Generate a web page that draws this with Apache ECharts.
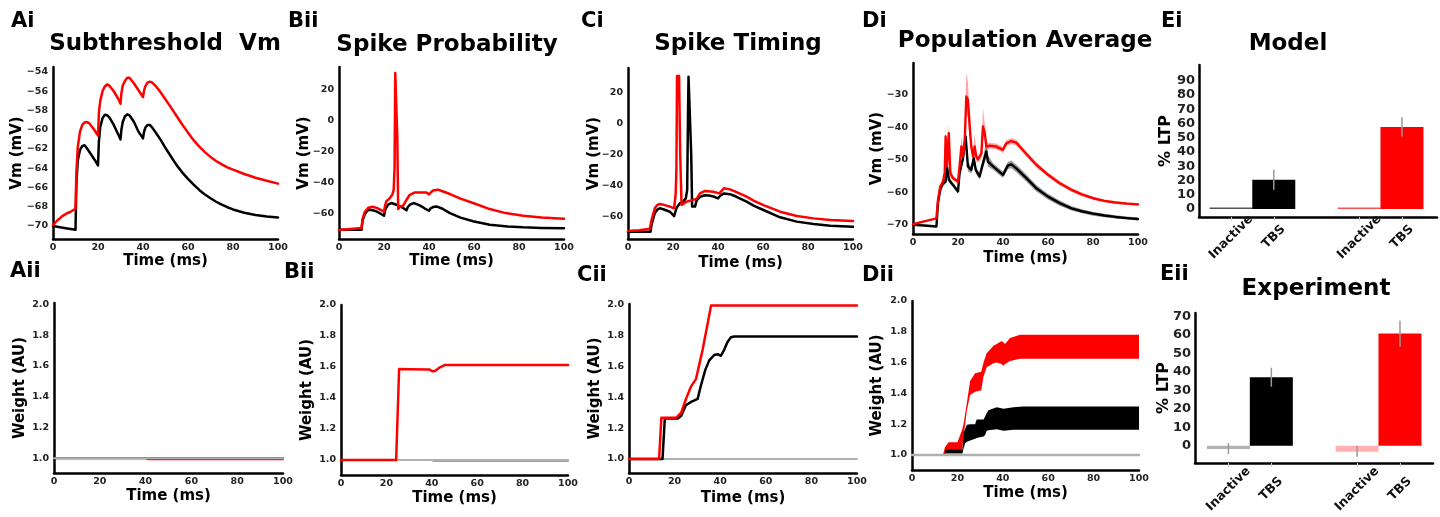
<!DOCTYPE html>
<html><head><meta charset="utf-8">
<script src="https://cdn.jsdelivr.net/npm/echarts@6/dist/echarts.min.js"></script>
<style>html,body{margin:0;padding:0;background:#fff}#c{width:1440px;height:517px}</style>
</head><body><div id="c"></div>
<script>
// ---------------- DATA ----------------
const timeTicks = [0, 20, 40, 60, 80, 100];
const aiVmTicks = [-70, -68, -66, -64, -62, -60, -58, -56, -54];
const spikeVmTicks = [-60, -40, -20, 0, 20];
const popVmTicks = [-70, -60, -50, -40, -30];
const weightTicks = [1.0, 1.2, 1.4, 1.6, 1.8, 2.0];
const modelTicks = [0, 10, 20, 30, 40, 50, 60, 70, 80, 90];
const experimentTicks = [0, 10, 20, 30, 40, 50, 60, 70];
const barCategories = ['Inactive', 'TBS', 'Inactive', 'TBS'];
const barPositions = [0, 1, 3, 4];

// Ai: subthreshold Vm (time ms, mV)
const aiBlack = [[0,-70.0],[5,-70.2],[10,-70.4],[10.4,-65.5],[11,-63.2],[12,-62.1],[13,-61.7],[14,-61.6],[15,-61.9],[17,-62.6],[19,-63.3],[20,-63.7],[20.4,-61.2],[21,-59.7],[22,-58.8],[23,-58.45],[24,-58.5],[25,-58.7],[27,-59.5],[29,-60.5],[30,-61.0],[30.4,-60.0],[31,-59.2],[32,-58.6],[33,-58.4],[34,-58.5],[36,-59.2],[38,-60.2],[40,-60.9],[40.4,-60.3],[41,-59.8],[42,-59.5],[43,-59.5],[44,-59.75],[46,-60.4],[48,-61.1],[50,-61.9],[52.5,-62.8],[55,-63.7],[57.5,-64.45],[60,-65.1],[62.5,-65.7],[65,-66.25],[67.5,-66.72],[70,-67.12],[72.5,-67.48],[75,-67.78],[77.5,-68.05],[80,-68.28],[85,-68.62],[90,-68.86],[95,-69.02],[100,-69.12]];
const aiRed = [[0,-69.9],[2,-69.4],[4,-69.0],[6,-68.7],[8,-68.5],[10,-68.2],[10.4,-64.5],[11,-61.8],[12,-60.2],[13,-59.5],[14,-59.25],[15,-59.2],[16,-59.3],[18,-59.9],[20,-60.6],[20.4,-58.2],[21,-57.0],[22,-56.0],[23,-55.5],[24,-55.3],[25,-55.4],[27,-56.0],[29,-56.8],[30,-57.3],[30.4,-56.2],[31,-55.4],[32,-54.9],[33,-54.6],[34,-54.6],[36,-55.2],[38,-55.9],[40,-56.6],[40.4,-56.0],[41,-55.5],[42,-55.1],[43,-55.0],[44,-55.08],[46,-55.55],[48,-56.15],[50,-56.85],[52.5,-57.7],[55,-58.6],[57.5,-59.48],[60,-60.3],[62.5,-61.08],[65,-61.75],[67.5,-62.32],[70,-62.82],[72.5,-63.25],[75,-63.6],[77.5,-63.9],[80,-64.15],[85,-64.6],[90,-64.98],[95,-65.3],[100,-65.6]];

// Bi: spike probability
const biBlack = [[0,-70.2],[10,-70.2],[10.5,-64],[11.4,-60.4],[12.5,-58],[13.6,-57.2],[15,-57.6],[16.6,-58.3],[18.5,-59.8],[20,-61.1],[20.6,-57],[21.8,-54],[23.3,-52.9],[25.5,-54],[28.5,-56.1],[30,-57.6],[30.6,-55.5],[31.5,-54],[33.2,-52.9],[35.9,-54.4],[38,-56.3],[40,-57.9],[40.6,-56.5],[41.8,-55.5],[43.3,-55.1],[46,-56.6],[49.3,-59.4],[54,-62.3],[59.6,-64.7],[67,-66.9],[75,-68],[81.9,-68.6],[90,-69],[100,-69.2]];
const biRed = [[0,-70.3],[5,-69.7],[10,-69.0],[10.5,-63],[11.5,-58.5],[13,-56],[15,-55.3],[17,-56.2],[20,-58.5],[20.5,-54.5],[21,-51.8],[22.6,-49.7],[23.7,-47.6],[24.3,-44.3],[24.7,-30],[25.0,31],[25.6,31],[25.9,-10],[26.3,-56.8],[27.3,-55],[28.5,-54.6],[30,-50.8],[31.5,-47.6],[33.7,-46.1],[38.9,-46.1],[40,-47.4],[41.8,-44.8],[44,-44.3],[46,-45.3],[49.3,-47.1],[54,-50.1],[59.6,-52.9],[67,-56.8],[74,-59.4],[81.9,-61.1],[90,-62.2],[100,-63]];

// Ci: spike timing
const ciBlack = [[0,-69.7],[10,-69.8],[10.5,-65],[11.9,-57.8],[13,-55.5],[14.1,-54.6],[16,-55.4],[18.6,-56.8],[20.5,-59.6],[21.5,-54.6],[23,-51.4],[24.5,-50.3],[25.7,-48.2],[26.3,-42.8],[26.7,10],[26.9,30.3],[27.6,30.3],[28.1,-20],[28.5,-53.5],[29.8,-53.5],[30.5,-49.5],[32,-47.2],[34,-46.2],[36,-46.4],[38,-47],[40,-48.2],[41,-46.5],[42.6,-45],[45.3,-45.5],[48,-47],[52.7,-50.3],[56,-53],[60.2,-55.7],[67.6,-60.4],[75,-63.2],[82.5,-64.7],[89.9,-65.8],[100,-66.5]];
const ciRed = [[0,-69.2],[5,-68.8],[9.7,-67.8],[10.5,-62],[11.9,-54.6],[13,-52.5],[14.1,-51.8],[16,-52.4],[18.6,-53.5],[20.5,-54.6],[21.2,-45],[21.5,-30],[21.8,30.8],[22.7,30.8],[23.2,-20],[23.8,-52.5],[26,-50.3],[29,-49.2],[30.5,-48.5],[32,-45],[34.2,-43.4],[37.9,-43.9],[40.6,-45],[42.6,-41.7],[45.3,-42.4],[48,-44],[52.7,-47.1],[56,-49.8],[60.2,-52.5],[67.6,-56.8],[75,-59.6],[82.5,-61.1],[89.9,-62.2],[100,-62.8]];

// Di: population average, mean and band [t, low, high]
const diRed = [[0,-69.8],[5,-68.9],[10.4,-68.0],[11.1,-62.3],[12.1,-58.2],[13.3,-56.7],[14.1,-54],[14.5,-42.8],[15.1,-52],[15.9,-41.8],[16.6,-54.1],[17.8,-55.6],[20,-56.7],[20.7,-52],[21.5,-45.9],[22.2,-49],[23,-43.8],[23.7,-30.5],[24.4,-31.5],[25.2,-39.7],[25.9,-45.9],[26.7,-49],[27.4,-45.9],[28.1,-49],[28.9,-49.8],[29.6,-49.5],[30.4,-48],[31.1,-39.7],[31.9,-41.8],[32.6,-45.9],[34.1,-45.6],[37,-45.9],[40,-46.9],[41.5,-44.9],[43.7,-44.2],[45.9,-44.7],[50.4,-48.2],[54.8,-51.5],[60,-54.6],[65.2,-57.2],[70.4,-59.2],[75,-60.6],[80,-61.8],[85,-62.6],[90,-63.1],[95,-63.45],[100,-63.7]];
const diRedBand = [[0,-70.0,-69.6],[5,-69.1,-68.7],[10.4,-68.2,-67.8],[11.1,-63,-61.5],[12.1,-59,-57.5],[13.3,-57.5,-56],[14.1,-55.5,-52],[14.5,-46,-39.5],[15.1,-54,-50],[15.9,-45,-39],[16.6,-55.5,-52.5],[17.8,-56.3,-55],[20,-57.3,-56],[20.7,-53.5,-50.5],[21.5,-48,-42.5],[22.2,-51,-47],[23,-47,-40],[23.7,-36,-23],[24.4,-37,-26],[25.2,-43,-36],[25.9,-48,-43.5],[26.7,-50.5,-47.5],[27.4,-48.5,-42],[28.1,-50.5,-47.5],[28.9,-50.8,-48.8],[29.6,-50.5,-48.5],[30.4,-49.5,-46.5],[31.1,-43,-34],[31.9,-44,-39],[32.6,-47,-44.5],[34.1,-46.5,-44.7],[37,-46.8,-45],[40,-47.8,-46],[41.5,-45.8,-44],[43.7,-45.1,-43.3],[45.9,-45.6,-43.8],[50.4,-49,-47.4],[54.8,-52.3,-50.7],[60,-55.3,-53.9],[65.2,-57.9,-56.5],[70.4,-59.8,-58.6],[75,-61.15,-60.05],[80,-62.3,-61.3],[85,-63.05,-62.15],[90,-63.5,-62.7],[95,-63.85,-63.05],[100,-64.1,-63.3]];
const diBlack = [[0,-70],[5,-70.2],[10.4,-70.5],[11.1,-63.3],[12.1,-59.2],[13.3,-57.2],[14.5,-56.7],[15.1,-52],[16,-56.2],[17.8,-57.7],[20,-59.7],[20.7,-54.1],[22.2,-49.5],[23.4,-42.8],[24.4,-52],[25.9,-53.1],[27,-49.5],[27.9,-53.1],[29.6,-55.1],[31.1,-51],[32.6,-47.4],[33.3,-50.5],[35.6,-52],[40,-54.6],[42.2,-51.7],[43.7,-51.4],[45.9,-52.6],[50.4,-55.6],[54.8,-58.7],[60,-61.3],[65.2,-63.3],[70.4,-64.9],[75,-65.8],[80,-66.55],[85,-67.1],[90,-67.55],[95,-67.9],[100,-68.2]];
const diBlackBand = [[0,-70.2,-69.8],[5,-70.4,-70],[10.4,-70.7,-70.3],[11.1,-64,-62.5],[12.1,-60,-58.4],[13.3,-58,-56.4],[14.5,-57.5,-55.5],[15.1,-54,-50],[16,-57,-55.2],[17.8,-58.4,-57],[20,-60.4,-59],[20.7,-55.2,-53],[22.2,-51,-48],[23.4,-46,-41],[24.4,-53.5,-50.5],[25.9,-54.2,-52],[27,-51.5,-47.5],[27.9,-54.2,-52],[29.6,-56,-54.2],[31.1,-52.5,-49.5],[32.6,-49.5,-44],[33.3,-52,-48.5],[35.6,-53,-51],[40,-55.6,-53.6],[42.2,-52.8,-50.6],[43.7,-52.6,-50.2],[45.9,-53.8,-51.4],[50.4,-56.7,-54.5],[54.8,-59.7,-57.7],[60,-62.2,-60.4],[65.2,-64.1,-62.5],[70.4,-65.6,-64.2],[75,-66.45,-65.15],[80,-67.15,-65.95],[85,-67.65,-66.55],[90,-68.05,-67.05],[95,-68.35,-67.45],[100,-68.65,-67.75]];

// Weights (AU)
const baselineWeight = [[0,1.0],[100,1.0]];
const aiiBlack = [[0,1.0],[100,1.0]];
const aiiRed = [[0,1.0],[40,1.0],[41,0.993],[100,0.993]];
const biiBlack = [[0,1.0],[40,1.0],[41,0.995],[100,0.995]];
const biiRed = [[0,1.0],[24.3,1.0],[25.6,1.587],[30,1.585],[39,1.583],[40.4,1.572],[41.4,1.574],[43.6,1.598],[45.8,1.613],[100,1.613]];
const ciiRed = [[0,1.0],[13.2,1.0],[14.2,1.268],[20.7,1.268],[22.9,1.3],[25,1.39],[27.2,1.47],[29.4,1.52],[30.1,1.53],[32.3,1.71],[34.5,1.88],[36,1.997],[39.4,1.997],[39.7,1.985],[40.1,1.997],[100,1.997]];
const ciiBlack = [[0,1.0],[14.7,1.0],[15.7,1.262],[21.4,1.262],[22.9,1.28],[25,1.35],[27.2,1.37],[28.7,1.38],[30.1,1.39],[31.6,1.48],[33.5,1.58],[35.2,1.64],[37.4,1.675],[38.9,1.68],[39.6,1.67],[40.3,1.67],[41.8,1.71],[43.2,1.76],[44.7,1.79],[46.1,1.795],[100,1.795]];
const diiRedBand = [[13.6,1.0,1.0],[14.5,1.01,1.05],[16.1,1.02,1.083],[20,1.02,1.083],[22,1.03,1.16],[22.7,1.12,1.2],[24.2,1.29,1.34],[25.6,1.39,1.48],[27.8,1.41,1.53],[30.5,1.42,1.54],[31.5,1.51,1.6],[32.9,1.57,1.66],[35.9,1.595,1.71],[37.3,1.6,1.72],[39.5,1.59,1.74],[40.3,1.58,1.73],[41,1.59,1.72],[43.2,1.61,1.76],[47.6,1.624,1.78],[100,1.624,1.78]];
const diiBlackBand = [[14.2,1.0,1.0],[14.8,1.01,1.033],[22.2,1.01,1.033],[22.7,1.04,1.14],[23.4,1.076,1.17],[24.2,1.085,1.196],[25.6,1.094,1.2],[27.8,1.105,1.2],[28.5,1.11,1.23],[31.5,1.12,1.23],[32.2,1.13,1.25],[32.9,1.157,1.27],[33.7,1.16,1.29],[37.3,1.167,1.31],[40.3,1.157,1.3],[44.7,1.163,1.31],[49,1.163,1.315],[100,1.163,1.315]];

// % LTP bars
const modelValues = [0, 20.5, 0, 57.6];
const modelErrLow = [0, 13.5, 0, 50.8];
const modelErrHigh = [0, 27.5, 0, 64.3];
const experimentValues = [-1.8, 37.1, -3.3, 60.9];
const experimentErrLow = [-4.5, 32.0, -6.0, 53.7];
const experimentErrHigh = [1.3, 42.3, 0.0, 67.8];

// ---------------- STYLE / LAYOUT ----------------
const FONT = 'DejaVu Sans';
const RED = '#ff0000', BLACK = '#000000', GRAY = '#b0b0b0';
const modelColors = ['#555555', BLACK, '#ff5050', RED];
const experimentColors = ['#b3b3b3', BLACK, '#ffb0b0', RED];

const gridRects = [
  {left:53, top:67, width:225, height:172},
  {left:339, top:67, width:225, height:172},
  {left:628, top:68, width:225, height:171},
  {left:913, top:63, width:225, height:171},
  {left:1199, top:65, width:238, height:152},
  {left:54, top:303, width:229, height:170},
  {left:341, top:305, width:227, height:170},
  {left:629, top:304, width:228, height:169},
  {left:912, top:301, width:227, height:169},
  {left:1195, top:313, width:238, height:150}
];

const minusFmt = v => String(v).replace('-', '\u2212');
const wFmt = v => Number(v).toFixed(1);
const axisLineStyle = {show:true, onZero:false, lineStyle:{color:'#000', width:2.5}};
const tickFont = {fontFamily:FONT, fontWeight:'bold', fontSize:9.5, color:'#222'};
const nameFont = {fontFamily:FONT, fontWeight:'bold', fontSize:15, color:'#000'};

function timeAxis(g, gap) {
  return {type:'value', gridIndex:g, min:0, max:100, name:'Time (ms)', nameLocation:'middle', nameGap:gap,
    nameMoveOverlap:false, nameTextStyle:nameFont, axisLine:axisLineStyle, axisTick:{show:false}, splitLine:{show:false},
    axisLabel:Object.assign({customValues:timeTicks, margin:4}, tickFont)};
}
function valAxis(g, min, max, ticks, name, gap, fmt) {
  return {type:'value', gridIndex:g, min:min, max:max, name:name, nameLocation:'middle', nameGap:gap, nameRotate:90,
    nameMoveOverlap:false, nameTextStyle:nameFont, axisLine:axisLineStyle, axisTick:{show:false}, splitLine:{show:false},
    axisLabel:Object.assign({customValues:ticks, margin:5, formatter:fmt}, tickFont)};
}
function barXAxis(g, min, max, margin) {
  return {type:'value', gridIndex:g, min:min, max:max, axisLine:axisLineStyle,
    axisTick:{show:true, customValues:barPositions, length:4, lineStyle:{color:'#cccccc', width:1}}, splitLine:{show:false},
    axisLabel:{customValues:barPositions, rotate:45, margin:margin, align:'center', verticalAlign:'middle',
      fontFamily:FONT, fontWeight:'bold', fontSize:12.5, color:'#111',
      formatter: v => barCategories[barPositions.indexOf(v)]}};
}
function barYAxis(g, min, max, ticks, gap) {
  return {type:'value', gridIndex:g, min:min, max:max, name:'% LTP', nameLocation:'middle', nameGap:gap, nameRotate:90,
    nameMoveOverlap:false, nameTextStyle:{fontFamily:FONT, fontWeight:'bold', fontSize:16, color:'#000'},
    axisLine:axisLineStyle, axisTick:{show:false}, splitLine:{show:false},
    axisLabel:{customValues:ticks, margin:4, fontFamily:FONT, fontWeight:'bold', fontSize:13, color:'#222'}};
}
function line(g, data, color, width, z) {
  return {type:'line', xAxisIndex:g, yAxisIndex:g, data:data, symbol:'none', showSymbol:false, z:z || 3,
    lineStyle:{color:color, width:width, join:'round', cap:'round'}, silent:true, clip:true};
}
function band(g, rows, color) {
  return {type:'custom', xAxisIndex:g, yAxisIndex:g, z:1, silent:true, clip:true,
    data: rows.map(r => [r[0], r[1], r[2]]), encode:{x:0, y:[1,2]},
    renderItem: (params, api) => {
      if (params.dataIndex !== 0) return null;
      const top = rows.map(r => api.coord([r[0], r[2]]));
      const bot = rows.map(r => api.coord([r[0], r[1]])).reverse();
      return {type:'polygon', shape:{points: top.concat(bot)}, style:{fill:color}};
    }};
}
function bars(g, values, colors) {
  return {type:'bar', xAxisIndex:g, yAxisIndex:g, barWidth:43, barMinHeight:1.5, silent:true, z:2,
    data: values.map((v, i) => ({value:[barPositions[i], v], itemStyle:{color:colors[i]}}))};
}
function errBars(g, lows, highs) {
  return {type:'custom', xAxisIndex:g, yAxisIndex:g, z:4, silent:true,
    data: lows.map((lo, i) => [barPositions[i], lo, highs[i]]),
    encode:{x:0, y:[1,2]},
    renderItem: (params, api) => {
      const p1 = api.coord([api.value(0), api.value(1)]);
      const p2 = api.coord([api.value(0), api.value(2)]);
      return {type:'line', shape:{x1:p1[0], y1:p1[1], x2:p2[0], y2:p2[1]}, style:{stroke:'#999999', lineWidth:1.5}};
    }};
}
function txt(text, x, y, size, align) {
  return {type:'text', x:x, y:y, silent:true, style:{text:text, fill:'#000', fontFamily:FONT, fontWeight:'bold', fontSize:size,
    align:align, textAlign:align, verticalAlign:'middle', textVerticalAlign:'middle'}};
}

const option = {
  animation:false,
  backgroundColor:'#ffffff',
  grid: gridRects.map(r => Object.assign({containLabel:false, outerBoundsMode:'none'}, r)),
  xAxis: [
    timeAxis(0, 15), timeAxis(1, 15), timeAxis(2, 17), timeAxis(3, 17), barXAxis(4, -0.75, 4.82, 20),
    timeAxis(5, 16), timeAxis(6, 16), timeAxis(7, 18), timeAxis(8, 16), barXAxis(9, -0.78, 4.77, 26)
  ],
  yAxis: [
    valAxis(0, -71.35, -53.48, aiVmTicks, 'Vm (mV)', 28, minusFmt),
    valAxis(1, -76.1, 34.8, spikeVmTicks, 'Vm (mV)', 27, minusFmt),
    valAxis(2, -74.4, 35.9, spikeVmTicks, 'Vm (mV)', 26, minusFmt),
    valAxis(3, -72.8, -20.2, popVmTicks, 'Vm (mV)', 28, minusFmt),
    barYAxis(4, -5.6, 101, modelTicks, 25),
    valAxis(5, 0.905, 2.008, weightTicks, 'Weight (AU)', 26, wFmt),
    valAxis(6, 0.903, 2.0, weightTicks, 'Weight (AU)', 26, wFmt),
    valAxis(7, 0.909, 2.006, weightTicks, 'Weight (AU)', 26, wFmt),
    valAxis(8, 0.902, 2.0, weightTicks, 'Weight (AU)', 27, wFmt),
    barYAxis(9, -9.4, 72, experimentTicks, 23)
  ],
  series: [
    line(0, aiBlack, BLACK, 2.5), line(0, aiRed, RED, 2.5),
    line(1, biBlack, BLACK, 2.5), line(1, biRed, RED, 2.5),
    line(2, ciBlack, BLACK, 2.5), line(2, ciRed, RED, 2.5),
    band(3, diRedBand, 'rgba(255,0,0,0.35)'), band(3, diBlackBand, 'rgba(0,0,0,0.4)'),
    line(3, diBlack, BLACK, 2.4), line(3, diRed, RED, 2.4),
    bars(4, modelValues, modelColors), errBars(4, modelErrLow, modelErrHigh),
    line(5, aiiBlack, BLACK, 2), line(5, aiiRed, RED, 1.5), line(5, baselineWeight, GRAY, 2, 4),
    line(6, biiBlack, '#808080', 2), line(6, baselineWeight, GRAY, 2, 3), line(6, biiRed, RED, 2.5, 4),
    line(7, baselineWeight, GRAY, 2, 2), line(7, ciiBlack, BLACK, 2.5), line(7, ciiRed, RED, 2.5),
    line(8, baselineWeight, GRAY, 2.5, 0), band(8, diiRedBand, RED), band(8, diiBlackBand, BLACK),
    bars(9, experimentValues, experimentColors), errBars(9, experimentErrLow, experimentErrHigh)
  ],
  graphic: {elements: [
    txt('Ai', 11, 22, 21, 'left'), txt('Bii', 288, 22, 21, 'left'), txt('Ci', 581, 22, 21, 'left'),
    txt('Di', 862, 22, 21, 'left'), txt('Ei', 1161, 22, 21, 'left'),
    txt('Aii', 10, 272, 21, 'left'), txt('Bii', 284, 273, 21, 'left'), txt('Cii', 577, 276, 21, 'left'),
    txt('Dii', 862, 276, 21, 'left'), txt('Eii', 1160, 275, 21, 'left'),
    txt('Subthreshold  Vm', 165, 44, 23, 'center'), txt('Spike Probability', 447, 45, 23, 'center'),
    txt('Spike Timing', 738, 44, 23, 'center'), txt('Population Average', 1025, 41, 23, 'center'),
    txt('Model', 1288, 44, 23, 'center'), txt('Experiment', 1316, 289, 23, 'center')
  ]}
};

const chart = echarts.init(document.getElementById('c'), null, {renderer:'canvas'});
chart.setOption(option);
</script>
</body></html>
